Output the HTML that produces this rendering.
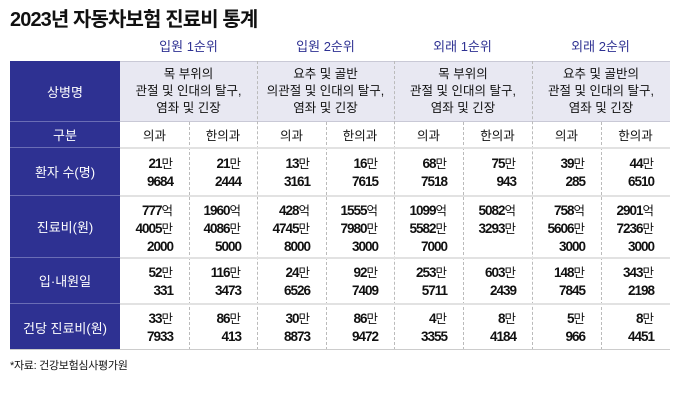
<!DOCTYPE html><html><head><meta charset="utf-8"><style>
*{margin:0;padding:0;box-sizing:border-box}
body{width:680px;height:415px;background:#fff;position:relative;overflow:hidden;font-family:"Liberation Sans","Noto Sans CJK KR",sans-serif;color:#111}
.a{position:absolute}
.t{left:10px;top:3px;font-size:20px;font-weight:bold;letter-spacing:-0.9px}
.g{top:36px;width:137px;text-align:center;color:#2e3192;font-size:13px}
.nav{left:10px;width:110px;background:#2e3192;color:#fff;font-size:13px;display:flex;align-items:center;justify-content:center;border-bottom:1px solid #6a6db5}
.hd{top:61px;height:61px;background:#e8e8f2;font-size:12.5px;text-align:center;line-height:17px;padding-top:4px;border-top:1px solid #c9c9d6;border-bottom:1px solid #c9c9d6}
.c{font-size:13.5px;text-align:right;padding-right:16px;line-height:18px;font-weight:bold;letter-spacing:-1px;display:flex;flex-direction:column;justify-content:flex-start;padding-top:5px}
.c s{font-weight:normal;text-decoration:none;font-size:12.5px;letter-spacing:0}
.sub{font-size:12.5px;text-align:center;display:flex;align-items:center;justify-content:center}
.vl{width:0;border-left:1px dashed #bbb}
.hl{left:120px;width:550px;height:2px;background:#e2e2e2}
.src{left:10px;top:357px;font-size:11px;letter-spacing:-0.3px}
</style></head><body>
<div class="a t">2023년 자동차보험 진료비 통계</div>
<div class="a g" style="left:120px">입원 1순위</div>
<div class="a g" style="left:257px">입원 2순위</div>
<div class="a g" style="left:394px">외래 1순위</div>
<div class="a g" style="left:532px">외래 2순위</div>

<div class="a nav" style="top:61px;height:61px">상병명</div>
<div class="a nav" style="top:122px;height:26px">구분</div>
<div class="a nav" style="top:148px;height:48px">환자 수(명)</div>
<div class="a nav" style="top:196px;height:62px">진료비(원)</div>
<div class="a nav" style="top:258px;height:46px">입·내원일</div>
<div class="a nav" style="top:304px;height:46px;border:none">건당 진료비(원)</div>

<div class="a hd" style="left:120px;width:137px">목 부위의<br>관절 및 인대의 탈구,<br>염좌 및 긴장</div>
<div class="a hd" style="left:257px;width:137px">요추 및 골반<br>의관절 및 인대의 탈구,<br>염좌 및 긴장</div>
<div class="a hd" style="left:394px;width:138px">목 부위의<br>관절 및 인대의 탈구,<br>염좌 및 긴장</div>
<div class="a hd" style="left:532px;width:138px">요추 및 골반의<br>관절 및 인대의 탈구,<br>염좌 및 긴장</div>

<div class="a vl" style="left:257px;top:61px;height:289px"></div>
<div class="a vl" style="left:394px;top:61px;height:289px"></div>
<div class="a vl" style="left:532px;top:61px;height:289px"></div>
<div class="a vl" style="left:189px;top:122px;height:228px"></div>
<div class="a vl" style="left:326px;top:122px;height:228px"></div>
<div class="a vl" style="left:463px;top:122px;height:228px"></div>
<div class="a vl" style="left:601px;top:122px;height:228px"></div>

<div class="a hl" style="top:147px"></div>
<div class="a hl" style="top:195px"></div>
<div class="a hl" style="top:257px"></div>
<div class="a hl" style="top:303px"></div>
<div class="a" style="left:10px;top:349px;width:660px;height:1px;background:#ccc"></div>

<div class="a sub" style="left:120px;top:122px;width:69px;height:25px">의과</div>
<div class="a sub" style="left:189px;top:122px;width:68px;height:25px">한의과</div>
<div class="a sub" style="left:257px;top:122px;width:69px;height:25px">의과</div>
<div class="a sub" style="left:326px;top:122px;width:68px;height:25px">한의과</div>
<div class="a sub" style="left:394px;top:122px;width:69px;height:25px">의과</div>
<div class="a sub" style="left:463px;top:122px;width:69px;height:25px">한의과</div>
<div class="a sub" style="left:532px;top:122px;width:69px;height:25px">의과</div>
<div class="a sub" style="left:601px;top:122px;width:69px;height:25px">한의과</div>

<div class="a c" style="left:120px;top:150px;width:69px;height:45px"><div>21<s>만</s></div><div>9684</div></div>
<div class="a c" style="left:189px;top:150px;width:68px;height:45px"><div>21<s>만</s></div><div>2444</div></div>
<div class="a c" style="left:257px;top:150px;width:69px;height:45px"><div>13<s>만</s></div><div>3161</div></div>
<div class="a c" style="left:326px;top:150px;width:68px;height:45px"><div>16<s>만</s></div><div>7615</div></div>
<div class="a c" style="left:394px;top:150px;width:69px;height:45px"><div>68<s>만</s></div><div>7518</div></div>
<div class="a c" style="left:463px;top:150px;width:69px;height:45px"><div>75<s>만</s></div><div>943</div></div>
<div class="a c" style="left:532px;top:150px;width:69px;height:45px"><div>39<s>만</s></div><div>285</div></div>
<div class="a c" style="left:601px;top:150px;width:69px;height:45px"><div>44<s>만</s></div><div>6510</div></div>

<div class="a c" style="left:120px;top:197px;width:69px;height:60px"><div>777<s>억</s></div><div>4005<s>만</s></div><div>2000</div></div>
<div class="a c" style="left:189px;top:197px;width:68px;height:60px"><div>1960<s>억</s></div><div>4086<s>만</s></div><div>5000</div></div>
<div class="a c" style="left:257px;top:197px;width:69px;height:60px"><div>428<s>억</s></div><div>4745<s>만</s></div><div>8000</div></div>
<div class="a c" style="left:326px;top:197px;width:68px;height:60px"><div>1555<s>억</s></div><div>7980<s>만</s></div><div>3000</div></div>
<div class="a c" style="left:394px;top:197px;width:69px;height:60px"><div>1099<s>억</s></div><div>5582<s>만</s></div><div>7000</div></div>
<div class="a c" style="left:463px;top:197px;width:69px;height:60px"><div>5082<s>억</s></div><div>3293<s>만</s></div></div>
<div class="a c" style="left:532px;top:197px;width:69px;height:60px"><div>758<s>억</s></div><div>5606<s>만</s></div><div>3000</div></div>
<div class="a c" style="left:601px;top:197px;width:69px;height:60px"><div>2901<s>억</s></div><div>7236<s>만</s></div><div>3000</div></div>

<div class="a c" style="left:120px;top:259px;width:69px;height:44px"><div>52<s>만</s></div><div>331</div></div>
<div class="a c" style="left:189px;top:259px;width:68px;height:44px"><div>116<s>만</s></div><div>3473</div></div>
<div class="a c" style="left:257px;top:259px;width:69px;height:44px"><div>24<s>만</s></div><div>6526</div></div>
<div class="a c" style="left:326px;top:259px;width:68px;height:44px"><div>92<s>만</s></div><div>7409</div></div>
<div class="a c" style="left:394px;top:259px;width:69px;height:44px"><div>253<s>만</s></div><div>5711</div></div>
<div class="a c" style="left:463px;top:259px;width:69px;height:44px"><div>603<s>만</s></div><div>2439</div></div>
<div class="a c" style="left:532px;top:259px;width:69px;height:44px"><div>148<s>만</s></div><div>7845</div></div>
<div class="a c" style="left:601px;top:259px;width:69px;height:44px"><div>343<s>만</s></div><div>2198</div></div>

<div class="a c" style="left:120px;top:305px;width:69px;height:44px"><div>33<s>만</s></div><div>7933</div></div>
<div class="a c" style="left:189px;top:305px;width:68px;height:44px"><div>86<s>만</s></div><div>413</div></div>
<div class="a c" style="left:257px;top:305px;width:69px;height:44px"><div>30<s>만</s></div><div>8873</div></div>
<div class="a c" style="left:326px;top:305px;width:68px;height:44px"><div>86<s>만</s></div><div>9472</div></div>
<div class="a c" style="left:394px;top:305px;width:69px;height:44px"><div>4<s>만</s></div><div>3355</div></div>
<div class="a c" style="left:463px;top:305px;width:69px;height:44px"><div>8<s>만</s></div><div>4184</div></div>
<div class="a c" style="left:532px;top:305px;width:69px;height:44px"><div>5<s>만</s></div><div>966</div></div>
<div class="a c" style="left:601px;top:305px;width:69px;height:44px"><div>8<s>만</s></div><div>4451</div></div>

<div class="a src">*자료: 건강보험심사평가원</div>
</body></html>
